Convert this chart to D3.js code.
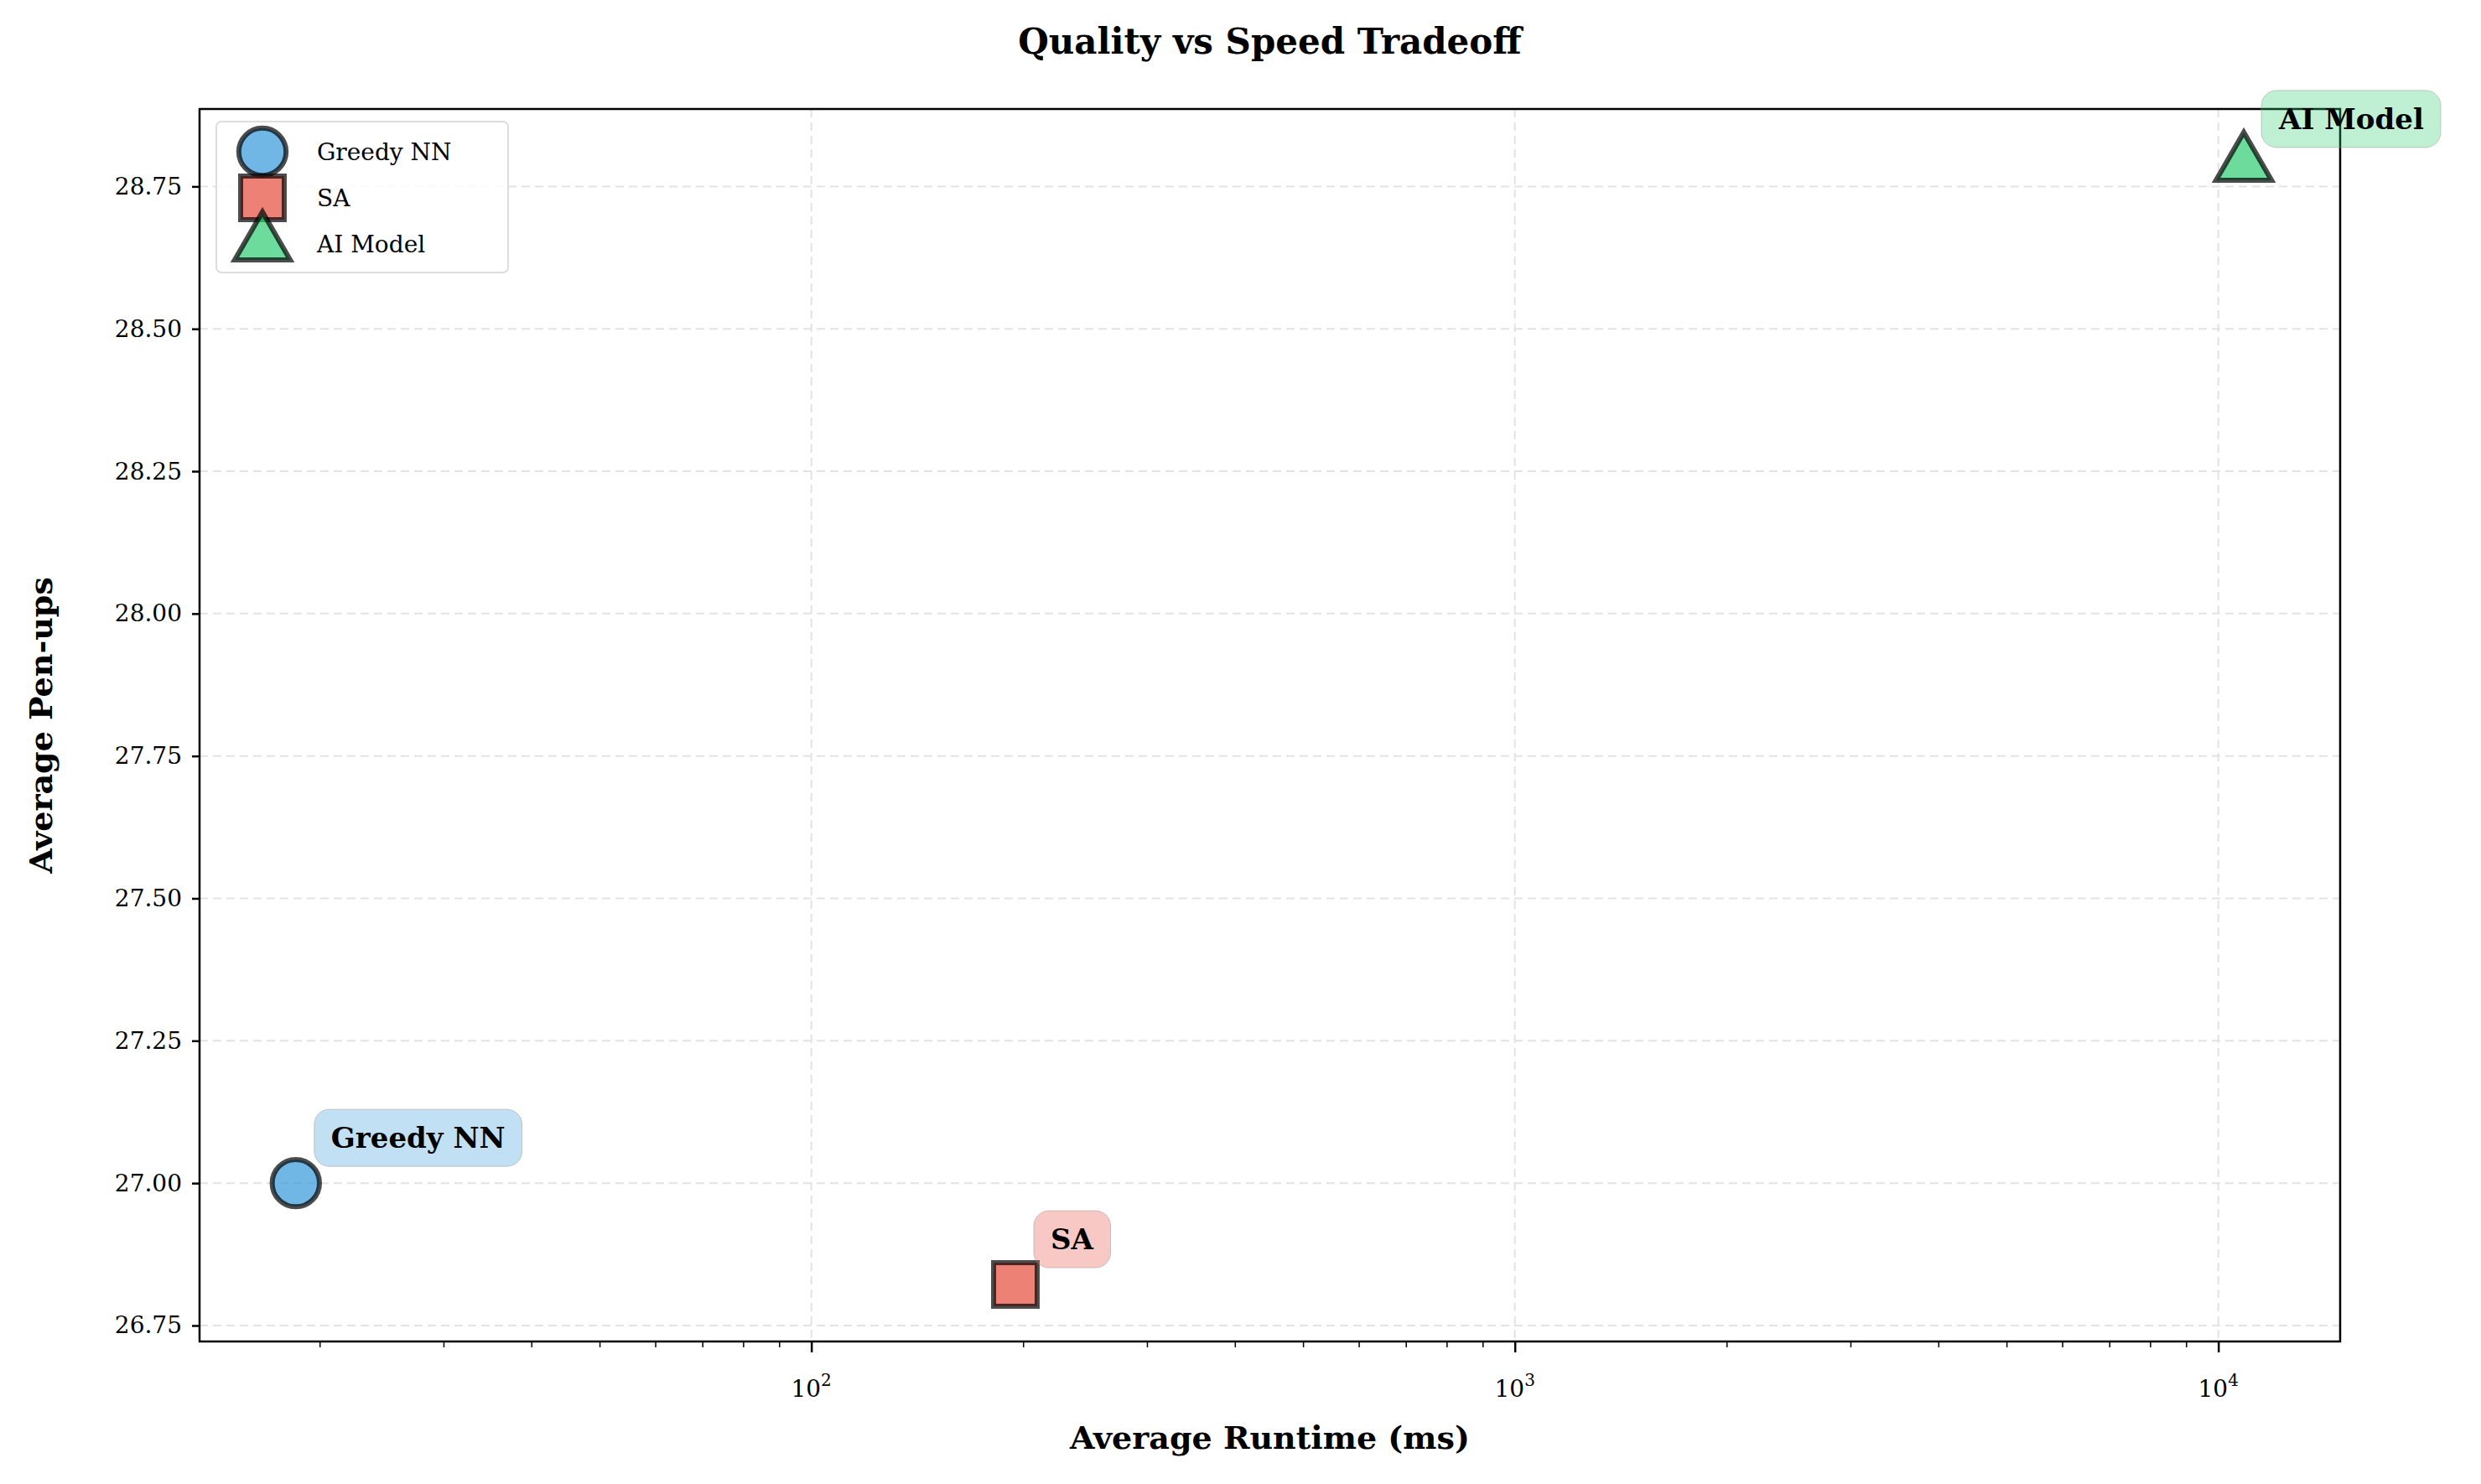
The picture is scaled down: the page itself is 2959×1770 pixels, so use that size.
<!DOCTYPE html>
<html><head><meta charset="utf-8">
<script src="https://cdn.jsdelivr.net/npm/d3@7"></script>
<style>body{margin:0;background:#fff;} text{font-family:"DejaVu Serif",serif;}</style>
</head><body>
<script>
// data
var methods = ["Greedy NN", "SA", "AI Model"];
var runtimes = [18.5, 195, 10870];
var penups = [27.0, 26.822, 28.789];
var colors = ["#3498db", "#e74c3c", "#2ecc71"];
var shapes = [d3.symbolCircle, d3.symbolSquare, d3.symbolTriangle];
var yTicks = [26.75, 27.00, 27.25, 27.50, 27.75, 28.00, 28.25, 28.50, 28.75];

var W = 2959, H = 1770;
var margin = {top: 130, right: 168, bottom: 170, left: 238},
  width = W - margin.left - margin.right,
  height = H - margin.top - margin.bottom;

var svg = d3.select("body").append("svg").attr("width", W).attr("height", H);
var g = svg.append("g").attr("transform", "translate(" + margin.left + "," + margin.top + ")");

var x = d3.scaleLog().domain([13.5, 14900]).range([0, width]);
var y = d3.scaleLinear().domain([26.722, 28.886]).range([height, 0]);

// grid
g.selectAll(".gy").data(yTicks).enter().append("line")
  .attr("x1", 0).attr("x2", width).attr("y1", d => y(d)).attr("y2", d => y(d))
  .attr("stroke", "#e3e3e3").attr("stroke-width", 2).attr("stroke-dasharray", "10,6");
g.selectAll(".gx").data([100, 1000, 10000]).enter().append("line")
  .attr("y1", 0).attr("y2", height).attr("x1", d => x(d)).attr("x2", d => x(d))
  .attr("stroke", "#e3e3e3").attr("stroke-width", 2).attr("stroke-dasharray", "10,6");

// axes
var yAxis = g.append("g").call(d3.axisLeft(y).tickValues(yTicks).tickFormat(d3.format(".2f")).tickSize(9).tickSizeOuter(0).tickPadding(12));
yAxis.selectAll("text").attr("font-size", 28).style("font-family", "DejaVu Serif");
yAxis.selectAll("line").attr("stroke-width", 2.5);

var major = [100, 1000, 10000];
var minor = [];
[10, 100, 1000, 10000].forEach(function(b){ for (var k = 2; k < 10; k++){ var v = b*k; if (v > 13.5 && v < 14900) minor.push(v); } });
var xAxis = g.append("g").attr("transform", "translate(0," + height + ")")
  .call(d3.axisBottom(x).tickValues(major).tickFormat("").tickSize(13).tickSizeOuter(0));
xAxis.selectAll("line").attr("stroke-width", 2.5);
g.append("g").attr("transform", "translate(0," + height + ")")
  .call(d3.axisBottom(x).tickValues(minor).tickFormat("").tickSize(7).tickSizeOuter(0))
  .call(s => s.select(".domain").remove())
  .selectAll("line").attr("stroke-width", 1.5);
major.forEach(function(v){
  var t = g.append("text").attr("x", x(v)).attr("y", height + 66).attr("text-anchor", "middle").attr("font-size", 28);
  t.append("tspan").text("10");
  t.append("tspan").attr("dy", -13).attr("font-size", 20).text(Math.round(Math.log10(v)));
});
g.append("rect").attr("width", width).attr("height", height).attr("fill", "none").attr("stroke", "#000").attr("stroke-width", 2.5);

// points
g.selectAll(".pt").data(methods).enter().append("path")
  .attr("transform", (d, i) => "translate(" + x(runtimes[i]) + "," + y(penups[i]) + ")")
  .attr("d", (d, i) => d3.symbol().type(shapes[i]).size(i == 1 ? 2700 : (i == 2 ? 1900 : 2500))())
  .attr("fill", (d, i) => colors[i]).attr("fill-opacity", 0.7)
  .attr("stroke", "#000").attr("stroke-opacity", 0.7).attr("stroke-width", 6);

// annotations
methods.forEach(function(m, i){
  var px = x(runtimes[i]) + 42, py = y(penups[i]) - 42;
  var t = g.append("text").attr("x", px).attr("y", py).attr("font-size", 34).attr("font-weight", "bold").text(m);
  var bb = t.node().getBBox();
  g.append("rect").attr("x", bb.x - 20).attr("y", bb.y - 14).attr("width", bb.width + 40).attr("height", bb.height + 28)
    .attr("rx", 18).attr("fill", colors[i]).attr("fill-opacity", 0.3).attr("stroke", "#999").attr("stroke-opacity", 0.5);
  t.raise();
});

// legend
var lg = g.append("g").attr("transform", "translate(20,15)");
lg.append("rect").attr("width", 348).attr("height", 180).attr("rx", 6).attr("fill", "#fff").attr("fill-opacity", 0.8).attr("stroke", "#ddd").attr("stroke-width", 2);
methods.forEach(function(m, i){
  var yy = 36 + i * 55;
  lg.append("path").attr("transform", "translate(55," + yy + ")")
    .attr("d", d3.symbol().type(shapes[i]).size(i == 1 ? 2700 : (i == 2 ? 1900 : 2500))())
    .attr("fill", colors[i]).attr("fill-opacity", 0.7).attr("stroke", "#000").attr("stroke-opacity", 0.7).attr("stroke-width", 6);
  lg.append("text").attr("x", 120).attr("y", yy + 10).attr("font-size", 28).text(m);
});

// titles
svg.append("text").attr("x", margin.left + width / 2).attr("y", 64).attr("text-anchor", "middle")
  .attr("font-size", 42).attr("font-weight", "bold").text("Quality vs Speed Tradeoff");
svg.append("text").attr("x", margin.left + width / 2).attr("y", 1728).attr("text-anchor", "middle")
  .attr("font-size", 38).attr("font-weight", "bold").text("Average Runtime (ms)");
svg.append("text").attr("transform", "translate(62," + (margin.top + height / 2) + ") rotate(-90)").attr("text-anchor", "middle")
  .attr("font-size", 38).attr("font-weight", "bold").text("Average Pen-ups");
</script>
</body></html>
